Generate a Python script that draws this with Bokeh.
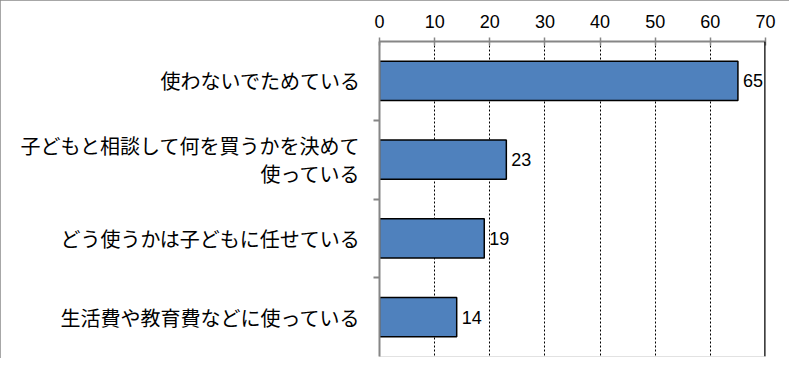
from bokeh.plotting import figure
from bokeh.models import Range1d, FixedTicker, Span, ColumnDataSource
from bokeh.core.properties import value
from bokeh.embed import file_html
from bokeh.resources import INLINE

categories = [
    "使わないでためている",
    "子どもと相談して何を買うかを決めて\n" + "\u3000" * 12 + "使っている",
    "どう使うかは子どもに任せている",
    "生活費や教育費などに使っている",
]
values = [65, 23, 19, 14]
x_ticks = [0, 10, 20, 30, 40, 50, 60, 70]

n = len(categories)
centers = [i + 0.5 for i in range(n)]
source = ColumnDataSource(dict(
    y=centers,
    v=values,
    lab=[str(v) for v in values],
))

p = figure(
    width=789, height=358,
    x_range=Range1d(0, 70), y_range=Range1d(n, 0),
    x_axis_location="above",
    output_backend="svg", toolbar_location=None,
    min_border_left=379, min_border_right=24,
    min_border_top=41, min_border_bottom=2,
)
p.outline_line_color = None
p.background_fill_color = "white"
p.border_fill_color = "white"
p.styles = {"outline": "2px solid #8a8a8a", "outline-offset": "-2px"}

# bars
p.hbar(y="y", right="v", left=0, height=0.5, source=source,
       fill_color="#4F81BD", line_color="black", line_width=1.5)

# value labels
p.text(x="v", y="y", text="lab", source=source, x_offset=5,
       text_baseline="middle", text_align="left",
       text_font=value("Liberation Sans"), text_font_size="18px",
       text_color="black")

# x axis (top)
xa = p.xaxis[0]
xa.ticker = FixedTicker(ticks=x_ticks)
xa.axis_line_color = "#868686"
xa.axis_line_width = 2
xa.major_tick_line_color = "#868686"
xa.major_tick_line_width = 1.5
xa.major_tick_in = 4
xa.major_tick_out = 4
xa.minor_tick_line_color = None
xa.major_label_standoff = 10
xa.major_label_text_font = "Liberation Sans"
xa.major_label_text_font_size = "18px"
xa.major_label_text_color = "black"

# y axis (left)
ya = p.yaxis[0]
ya.ticker = FixedTicker(ticks=centers, minor_ticks=[float(i) for i in range(1, n)])
ya.major_label_overrides = {c: lab for c, lab in zip(centers, categories)}
ya.axis_line_color = "#868686"
ya.axis_line_width = 2
ya.major_tick_line_color = None
ya.major_tick_in = 0
ya.major_tick_out = 0
ya.minor_tick_line_color = "#868686"
ya.minor_tick_line_width = 2
ya.minor_tick_in = 0
ya.minor_tick_out = 6
ya.major_label_standoff = 13
ya.major_label_text_font = "Noto Sans CJK JP"
ya.major_label_text_font_size = "20px"
ya.major_label_text_color = "black"
ya.major_label_text_line_height = 0.95

# grid
p.ygrid.grid_line_color = None
p.xgrid.ticker = FixedTicker(ticks=x_ticks[1:-1])
p.xgrid.grid_line_color = "black"
p.xgrid.grid_line_width = 1
p.xgrid.grid_line_dash = "2 2"

p.add_layout(Span(location=x_ticks[-1], dimension="height",
                  line_color="black", line_width=2.5))

open("out.html", "w").write(file_html(p, INLINE))
